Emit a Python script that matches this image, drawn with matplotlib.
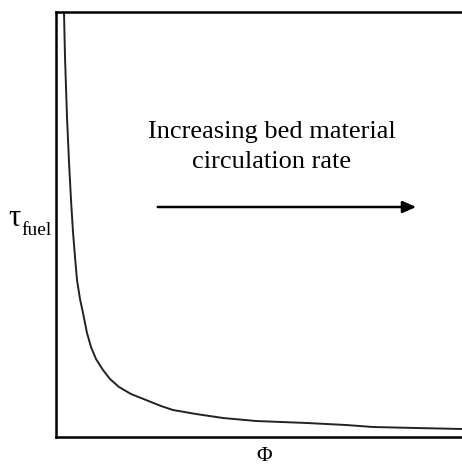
import numpy as np
import matplotlib
matplotlib.use('Agg')
import matplotlib.pyplot as plt

plt.rcParams['font.family'] = ['Liberation Serif', 'DejaVu Serif']

# curve (phi, tau), arbitrary units
phi = [8, 9, 10, 11, 13, 15, 17, 19, 21, 24, 27, 31, 35, 40, 47, 54, 63, 75, 90,
       105, 117, 140, 167, 200, 251, 290, 317, 360, 406]
tau = [425, 380, 350, 320, 275, 237, 205, 180, 157, 138, 124, 104, 90, 78, 67, 58, 50, 43, 37,
       31, 27, 23, 19, 16, 14, 12, 10, 9, 8]

annotation = 'Increasing bed material\ncirculation rate'

fig = plt.figure(figsize=(4.62, 4.65), dpi=100)
ax = fig.add_axes([56 / 462, 28 / 465, 406 / 462, 425 / 465])

ax.plot(phi, tau, color='#222222', lw=1.4, solid_joinstyle='round')
ax.set_xlim(0, 406)
ax.set_ylim(0, 425)
ax.set_xticks([])
ax.set_yticks([])
for s in ['left', 'bottom', 'top']:
  ax.spines[s].set_linewidth(1.8)
ax.spines['right'].set_visible(False)

ax.text(215.5, 290, annotation, ha='center', va='center', fontsize=19, linespacing=1.42)
ax.annotate('', xy=(363, 230), xytext=(99, 230),
            arrowprops=dict(arrowstyle='-|>,head_length=0.8,head_width=0.35', lw=1.8, color='black'))

# y label: tau with a large subscript
fig.text(8 / 462, 1 - 226 / 465, 'τ', ha='left', va='baseline', fontsize=22)
fig.text(21 / 462, 1 - 235 / 465, 'fuel', ha='left', va='baseline', fontsize=14)
fig.text(264 / 462, 1 - 456 / 465, 'Φ', ha='center', va='center', fontsize=15.5)

fig.savefig('out.png', dpi=100)
